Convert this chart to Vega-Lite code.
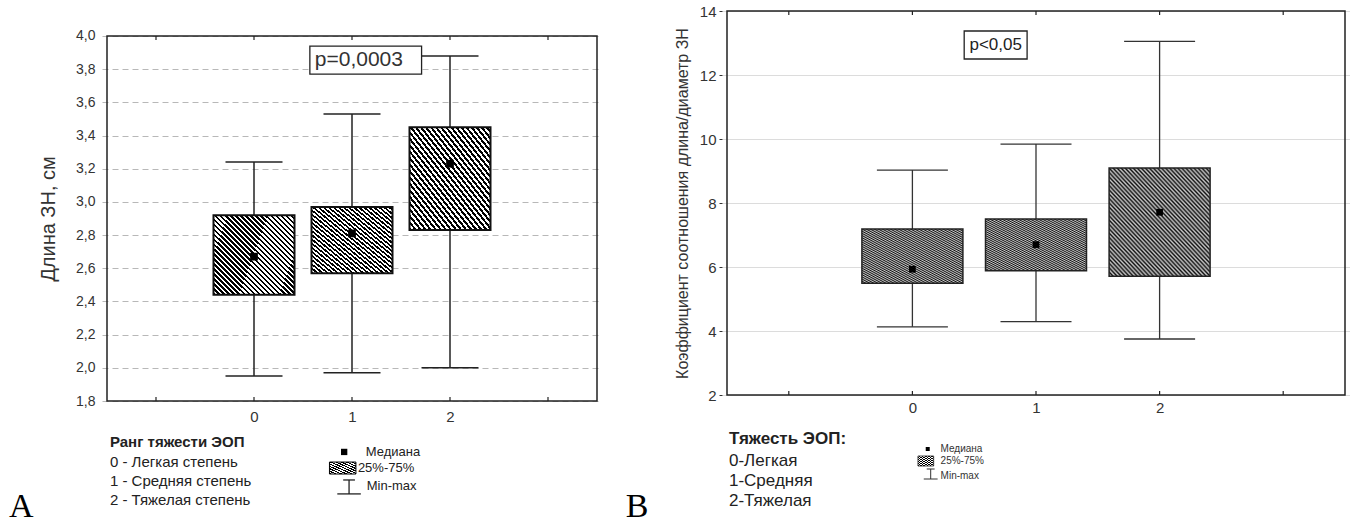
{
"$schema": "https://vega.github.io/schema/vega-lite/v6.json",
"background": "white",
"padding": {"left": 8, "top": 4, "right": 0, "bottom": 0},
"bounds": "flush",
"spacing": 120,
"config": {"view": {"stroke": null}, "font": "Liberation Sans"},
"datasets": {
 "left": [
  {"g": 0, "min": 1.95, "q1": 2.44, "med": 2.67, "q3": 2.92, "max": 3.24},
  {"g": 1, "min": 1.97, "q1": 2.57, "med": 2.81, "q3": 2.97, "max": 3.53},
  {"g": 2, "min": 2.0, "q1": 2.83, "med": 3.23, "q3": 3.45, "max": 3.88}
 ],
 "right": [
  {"g": 0, "min": 4.13, "q1": 5.49, "med": 5.93, "q3": 7.19, "max": 9.03},
  {"g": 1, "min": 4.29, "q1": 5.88, "med": 6.7, "q3": 7.5, "max": 9.84},
  {"g": 2, "min": 3.75, "q1": 5.71, "med": 7.71, "q3": 9.09, "max": 13.05}
 ],
 "one": [{}]
},
"hconcat": [
 {
  "width": 500, "height": 390,
  "layer": [
     {"data": {"name": "left"},
      "mark": {"type": "rule", "color": "#222", "strokeWidth": 1.5},
      "encoding": {
       "x": {"field": "g", "type": "quantitative", "scale": {"domain": [-1.5, 3.5], "nice": false, "zero": false},
             "axis": {"orient": "bottom", "values": [0, 1, 2], "format": "d", "title": null, "domain": false, "ticks": false, "grid": false, "labelFontSize": 15, "labelColor": "#333", "labelPadding": 8}},
       "y": {"field": "min", "type": "quantitative", "scale": {"domain": [1.8, 4.1506], "nice": false, "zero": false},
             "axis": {"orient": "left", "values": [1.8, 2, 2.2, 2.4, 2.6, 2.8, 3, 3.2, 3.4, 3.6, 3.8, 4], "tickCount": 30, "labelOverlap": false, "labelExpr": "replace(format(datum.value, '.1f'), '.', ',')", "title": "Длина ЗН, см", "titleFontSize": 20, "titleFontWeight": "normal", "titleColor": "#333", "titlePadding": 17, "titleY": 207.5, "domain": false, "ticks": false, "labelFontSize": 14, "labelColor": "#333", "labelPadding": 7, "grid": true, "gridColor": "#b8b8b8", "gridDash": [6, 4], "gridWidth": 1}},
       "y2": {"field": "max"}
      }},
     {"data": {"name": "left"},
      "mark": {"type": "tick", "orient": "horizontal", "size": 57, "thickness": 1.5, "color": "#222", "opacity": 1},
      "encoding": {"x": {"field": "g", "type": "quantitative"}, "y": {"field": "min", "type": "quantitative"}}},
     {"data": {"name": "left"},
      "mark": {"type": "tick", "orient": "horizontal", "size": 57, "thickness": 1.5, "color": "#222", "opacity": 1},
      "encoding": {"x": {"field": "g", "type": "quantitative"}, "y": {"field": "max", "type": "quantitative"}}},
     {"data": {"name": "left"},
      "mark": {"type": "bar", "size": 81, "opacity": 1, "stroke": "#111", "strokeWidth": 2,
       "fill": {"gradient": "linear", "x1": 0, "y1": 1, "x2": 1, "y2": 0, "stops": [
{"offset":0,"color":"#000"},
{"offset":0.015625,"color":"#000"},{"offset":0.015625,"color":"#fff"},
{"offset":0.03125,"color":"#fff"},{"offset":0.03125,"color":"#000"},
{"offset":0.046875,"color":"#000"},{"offset":0.046875,"color":"#fff"},
{"offset":0.0625,"color":"#fff"},{"offset":0.0625,"color":"#000"},
{"offset":0.078125,"color":"#000"},{"offset":0.078125,"color":"#fff"},
{"offset":0.09375,"color":"#fff"},{"offset":0.09375,"color":"#000"},
{"offset":0.109375,"color":"#000"},{"offset":0.109375,"color":"#fff"},
{"offset":0.125,"color":"#fff"},{"offset":0.125,"color":"#000"},
{"offset":0.140625,"color":"#000"},{"offset":0.140625,"color":"#fff"},
{"offset":0.15625,"color":"#fff"},{"offset":0.15625,"color":"#000"},
{"offset":0.171875,"color":"#000"},{"offset":0.171875,"color":"#fff"},
{"offset":0.1875,"color":"#fff"},{"offset":0.1875,"color":"#000"},
{"offset":0.203125,"color":"#000"},{"offset":0.203125,"color":"#fff"},
{"offset":0.21875,"color":"#fff"},{"offset":0.21875,"color":"#000"},
{"offset":0.234375,"color":"#000"},{"offset":0.234375,"color":"#fff"},
{"offset":0.25,"color":"#fff"},{"offset":0.25,"color":"#000"},
{"offset":0.265625,"color":"#000"},{"offset":0.265625,"color":"#fff"},
{"offset":0.28125,"color":"#fff"},{"offset":0.28125,"color":"#000"},
{"offset":0.296875,"color":"#000"},{"offset":0.296875,"color":"#fff"},
{"offset":0.3125,"color":"#fff"},{"offset":0.3125,"color":"#000"},
{"offset":0.328125,"color":"#000"},{"offset":0.328125,"color":"#fff"},
{"offset":0.34375,"color":"#fff"},{"offset":0.34375,"color":"#000"},
{"offset":0.359375,"color":"#000"},{"offset":0.359375,"color":"#fff"},
{"offset":0.375,"color":"#fff"},{"offset":0.375,"color":"#000"},
{"offset":0.390625,"color":"#000"},{"offset":0.390625,"color":"#fff"},
{"offset":0.40625,"color":"#fff"},{"offset":0.40625,"color":"#000"},
{"offset":0.421875,"color":"#000"},{"offset":0.421875,"color":"#fff"},
{"offset":0.4375,"color":"#fff"},{"offset":0.4375,"color":"#000"},
{"offset":0.453125,"color":"#000"},{"offset":0.453125,"color":"#fff"},
{"offset":0.46875,"color":"#fff"},{"offset":0.46875,"color":"#000"},
{"offset":0.484375,"color":"#000"},{"offset":0.484375,"color":"#fff"},
{"offset":0.5,"color":"#fff"},{"offset":0.5,"color":"#000"},
{"offset":0.515625,"color":"#000"},{"offset":0.515625,"color":"#fff"},
{"offset":0.53125,"color":"#fff"},{"offset":0.53125,"color":"#000"},
{"offset":0.546875,"color":"#000"},{"offset":0.546875,"color":"#fff"},
{"offset":0.5625,"color":"#fff"},{"offset":0.5625,"color":"#000"},
{"offset":0.578125,"color":"#000"},{"offset":0.578125,"color":"#fff"},
{"offset":0.59375,"color":"#fff"},{"offset":0.59375,"color":"#000"},
{"offset":0.609375,"color":"#000"},{"offset":0.609375,"color":"#fff"},
{"offset":0.625,"color":"#fff"},{"offset":0.625,"color":"#000"},
{"offset":0.640625,"color":"#000"},{"offset":0.640625,"color":"#fff"},
{"offset":0.65625,"color":"#fff"},{"offset":0.65625,"color":"#000"},
{"offset":0.671875,"color":"#000"},{"offset":0.671875,"color":"#fff"},
{"offset":0.6875,"color":"#fff"},{"offset":0.6875,"color":"#000"},
{"offset":0.703125,"color":"#000"},{"offset":0.703125,"color":"#fff"},
{"offset":0.71875,"color":"#fff"},{"offset":0.71875,"color":"#000"},
{"offset":0.734375,"color":"#000"},{"offset":0.734375,"color":"#fff"},
{"offset":0.75,"color":"#fff"},{"offset":0.75,"color":"#000"},
{"offset":0.765625,"color":"#000"},{"offset":0.765625,"color":"#fff"},
{"offset":0.78125,"color":"#fff"},{"offset":0.78125,"color":"#000"},
{"offset":0.796875,"color":"#000"},{"offset":0.796875,"color":"#fff"},
{"offset":0.8125,"color":"#fff"},{"offset":0.8125,"color":"#000"},
{"offset":0.828125,"color":"#000"},{"offset":0.828125,"color":"#fff"},
{"offset":0.84375,"color":"#fff"},{"offset":0.84375,"color":"#000"},
{"offset":0.859375,"color":"#000"},{"offset":0.859375,"color":"#fff"},
{"offset":0.875,"color":"#fff"},{"offset":0.875,"color":"#000"},
{"offset":0.890625,"color":"#000"},{"offset":0.890625,"color":"#fff"},
{"offset":0.90625,"color":"#fff"},{"offset":0.90625,"color":"#000"},
{"offset":0.921875,"color":"#000"},{"offset":0.921875,"color":"#fff"},
{"offset":0.9375,"color":"#fff"},{"offset":0.9375,"color":"#000"},
{"offset":0.953125,"color":"#000"},{"offset":0.953125,"color":"#fff"},
{"offset":0.96875,"color":"#fff"},{"offset":0.96875,"color":"#000"},
{"offset":0.984375,"color":"#000"},{"offset":0.984375,"color":"#fff"},
{"offset":1,"color":"#fff"}
       ]}},
      "encoding": {"x": {"field": "g", "type": "quantitative"}, "y": {"field": "q1", "type": "quantitative"}, "y2": {"field": "q3"}}},
     {"data": {"name": "left"},
      "mark": {"type": "point", "shape": "square", "filled": true, "size": 60, "color": "#000", "opacity": 1},
      "encoding": {"x": {"field": "g", "type": "quantitative"}, "y": {"field": "med", "type": "quantitative"}}},
     {"data": {"name": "one"},
      "mark": {"type": "rect", "filled": false, "stroke": "#222", "strokeWidth": 1.5},
      "encoding": {"x": {"datum": -1.5, "type": "quantitative"}, "x2": {"datum": 3.5}, "y": {"datum": 1.8, "type": "quantitative"}, "y2": {"datum": 4.0}}},
     {"data": {"name": "left"},
      "mark": {"type": "tick", "orient": "vertical", "size": 4, "thickness": 1.2, "color": "#222", "opacity": 1},
      "encoding": {"x": {"field": "g", "type": "quantitative"}, "y": {"datum": 3.988, "type": "quantitative"}}},
     {"data": {"name": "left"},
      "mark": {"type": "tick", "orient": "vertical", "size": 4, "thickness": 1.2, "color": "#222", "opacity": 1},
      "encoding": {"x": {"field": "g", "type": "quantitative"}, "y": {"datum": 1.812, "type": "quantitative"}}},
     {"data": {"name": "one"},
      "mark": {"type": "tick", "orient": "vertical", "size": 4, "thickness": 1.2, "color": "#222", "opacity": 1},
      "encoding": {"x": {"datum": -1, "type": "quantitative"}, "y": {"datum": 3.988, "type": "quantitative"}}},
     {"data": {"name": "one"},
      "mark": {"type": "tick", "orient": "vertical", "size": 4, "thickness": 1.2, "color": "#222", "opacity": 1},
      "encoding": {"x": {"datum": 3, "type": "quantitative"}, "y": {"datum": 3.988, "type": "quantitative"}}},
     {"data": {"name": "one"},
      "mark": {"type": "tick", "orient": "vertical", "size": 4, "thickness": 1.2, "color": "#222", "opacity": 1},
      "encoding": {"x": {"datum": -1, "type": "quantitative"}, "y": {"datum": 1.812, "type": "quantitative"}}},
     {"data": {"name": "one"},
      "mark": {"type": "tick", "orient": "vertical", "size": 4, "thickness": 1.2, "color": "#222", "opacity": 1},
      "encoding": {"x": {"datum": 3, "type": "quantitative"}, "y": {"datum": 1.812, "type": "quantitative"}}},
     {"data": {"name": "one"},
      "mark": {"type": "rect", "fill": "#fff", "stroke": "#222", "strokeWidth": 1.3},
      "encoding": {"x": {"datum": 0.57, "type": "quantitative"}, "x2": {"datum": 1.71}, "y": {"datum": 3.77, "type": "quantitative"}, "y2": {"datum": 3.939}}},
     {"data": {"name": "one"},
      "mark": {"type": "text", "text": "p=0,0003", "align": "left", "baseline": "middle", "fontSize": 21, "color": "#333"},
      "encoding": {"x": {"datum": 0.62, "type": "quantitative"}, "y": {"datum": 3.855, "type": "quantitative"}}},
     {"data": {"name": "one"},
      "mark": {"type": "text", "text": "Ранг тяжести ЭОП", "align": "left", "baseline": "middle", "fontSize": 15, "fontWeight": "bold", "color": "#222"},
      "encoding": {"x": {"datum": -1.47, "type": "quantitative"}, "y": {"datum": 1.553, "type": "quantitative"}}},
     {"data": {"name": "one"},
      "mark": {"type": "text", "text": ["0 - Легкая степень", "1 - Средняя степень", "2 - Тяжелая степень"], "lineHeight": 19, "align": "left", "baseline": "alphabetic", "fontSize": 15, "color": "#222"},
      "encoding": {"x": {"datum": -1.47, "type": "quantitative"}, "y": {"datum": 1.402, "type": "quantitative"}}},
     {"data": {"name": "one"},
      "mark": {"type": "point", "shape": "square", "filled": true, "size": 40, "color": "#000", "opacity": 1},
      "encoding": {"x": {"datum": 0.92, "type": "quantitative"}, "y": {"datum": 1.493, "type": "quantitative"}}},
     {"data": {"name": "one"},
      "mark": {"type": "text", "text": "Медиана", "align": "left", "baseline": "middle", "fontSize": 13, "color": "#222"},
      "encoding": {"x": {"datum": 1.14, "type": "quantitative"}, "y": {"datum": 1.493, "type": "quantitative"}}},
     {"data": {"name": "one"},
      "mark": {"type": "rect", "stroke": "#000", "strokeWidth": 1,
       "fill": {"gradient": "linear", "x1": 0, "y1": 1, "x2": 1, "y2": 0, "stops": [
{"offset":0,"color":"#000"},{"offset":0.05,"color":"#000"},{"offset":0.05,"color":"#fff"},{"offset":0.1,"color":"#fff"},
{"offset":0.1,"color":"#000"},{"offset":0.15,"color":"#000"},{"offset":0.15,"color":"#fff"},{"offset":0.2,"color":"#fff"},
{"offset":0.2,"color":"#000"},{"offset":0.25,"color":"#000"},{"offset":0.25,"color":"#fff"},{"offset":0.3,"color":"#fff"},
{"offset":0.3,"color":"#000"},{"offset":0.35,"color":"#000"},{"offset":0.35,"color":"#fff"},{"offset":0.4,"color":"#fff"},
{"offset":0.4,"color":"#000"},{"offset":0.45,"color":"#000"},{"offset":0.45,"color":"#fff"},{"offset":0.5,"color":"#fff"},
{"offset":0.5,"color":"#000"},{"offset":0.55,"color":"#000"},{"offset":0.55,"color":"#fff"},{"offset":0.6,"color":"#fff"},
{"offset":0.6,"color":"#000"},{"offset":0.65,"color":"#000"},{"offset":0.65,"color":"#fff"},{"offset":0.7,"color":"#fff"},
{"offset":0.7,"color":"#000"},{"offset":0.75,"color":"#000"},{"offset":0.75,"color":"#fff"},{"offset":0.8,"color":"#fff"},
{"offset":0.8,"color":"#000"},{"offset":0.85,"color":"#000"},{"offset":0.85,"color":"#fff"},{"offset":0.9,"color":"#fff"},
{"offset":0.9,"color":"#000"},{"offset":0.95,"color":"#000"},{"offset":0.95,"color":"#fff"},{"offset":1,"color":"#fff"}
       ]}},
      "encoding": {"x": {"datum": 0.77, "type": "quantitative"}, "x2": {"datum": 1.04}, "y": {"datum": 1.36, "type": "quantitative"}, "y2": {"datum": 1.432}}},
     {"data": {"name": "one"},
      "mark": {"type": "text", "text": "25%-75%", "align": "left", "baseline": "middle", "fontSize": 13, "color": "#222"},
      "encoding": {"x": {"datum": 1.06, "type": "quantitative"}, "y": {"datum": 1.396, "type": "quantitative"}}},
     {"data": {"name": "one"},
      "mark": {"type": "rule", "color": "#222", "strokeWidth": 1.3},
      "encoding": {"x": {"datum": 0.91, "type": "quantitative"}, "x2": {"datum": 1.03}, "y": {"datum": 1.324, "type": "quantitative"}}},
     {"data": {"name": "one"},
      "mark": {"type": "rule", "color": "#222", "strokeWidth": 1.3},
      "encoding": {"x": {"datum": 0.85, "type": "quantitative"}, "x2": {"datum": 1.09}, "y": {"datum": 1.24, "type": "quantitative"}}},
     {"data": {"name": "one"},
      "mark": {"type": "rule", "color": "#222", "strokeWidth": 1.3},
      "encoding": {"x": {"datum": 0.97, "type": "quantitative"}, "y": {"datum": 1.24, "type": "quantitative"}, "y2": {"datum": 1.324}}},
     {"data": {"name": "one"},
      "mark": {"type": "text", "text": "Min-max", "align": "left", "baseline": "middle", "fontSize": 13, "color": "#222"},
      "encoding": {"x": {"datum": 1.15, "type": "quantitative"}, "y": {"datum": 1.288, "type": "quantitative"}}},
     {"data": {"name": "one"},
      "mark": {"type": "text", "text": "A", "align": "left", "baseline": "alphabetic", "fontSize": 34, "font": "Liberation Serif", "color": "#000"},
      "encoding": {"x": {"datum": -2.5, "type": "quantitative"}, "y": {"datum": 1.101, "type": "quantitative"}}}
  ]
 },
 {
  "width": 628, "height": 384,
  "layer": [
     {"data": {"name": "right"},
      "mark": {"type": "rule", "color": "#333", "strokeWidth": 1.3},
      "encoding": {
       "x": {"field": "g", "type": "quantitative", "scale": {"domain": [-1.5, 3.5], "nice": false, "zero": false},
             "axis": {"orient": "bottom", "values": [0, 1, 2], "format": "d", "title": null, "domain": false, "ticks": false, "grid": false, "labelFontSize": 15, "labelColor": "#333", "labelPadding": 5}},
       "y": {"field": "min", "type": "quantitative", "scale": {"domain": [2, 14], "nice": false, "zero": false},
             "axis": {"orient": "left", "values": [2, 4, 6, 8, 10, 12, 14], "tickCount": 30, "labelOverlap": false, "format": "d", "title": "Коэффициент соотношения длина/диаметр ЗН", "titleFontSize": 16, "titleFontWeight": "normal", "titleColor": "#333", "titlePadding": 9, "domain": false, "ticks": true, "tickSize": 3, "tickColor": "#333", "labelFontSize": 15, "labelColor": "#333", "labelPadding": 3, "grid": true, "gridColor": "#dcdcdc", "gridWidth": 1}},
       "y2": {"field": "max"}
      }},
     {"data": {"name": "right"},
      "mark": {"type": "tick", "orient": "horizontal", "size": 71, "thickness": 1.3, "color": "#333", "opacity": 1},
      "encoding": {"x": {"field": "g", "type": "quantitative"}, "y": {"field": "min", "type": "quantitative"}}},
     {"data": {"name": "right"},
      "mark": {"type": "tick", "orient": "horizontal", "size": 71, "thickness": 1.3, "color": "#333", "opacity": 1},
      "encoding": {"x": {"field": "g", "type": "quantitative"}, "y": {"field": "max", "type": "quantitative"}}},
     {"data": {"name": "right"},
      "mark": {"type": "bar", "size": 101, "opacity": 1, "stroke": "#222", "strokeWidth": 1.5,
       "fill": {"gradient": "linear", "x1": 0, "y1": 1, "x2": 1, "y2": 0, "stops": [
{"offset":0,"color":"#111"},{"offset":0.01,"color":"#c8c8c8"},{"offset":0.02,"color":"#111"},{"offset":0.03,"color":"#c8c8c8"},{"offset":0.04,"color":"#111"},
{"offset":0.05,"color":"#c8c8c8"},{"offset":0.06,"color":"#111"},{"offset":0.07,"color":"#c8c8c8"},{"offset":0.08,"color":"#111"},{"offset":0.09,"color":"#c8c8c8"},
{"offset":0.1,"color":"#111"},{"offset":0.11,"color":"#c8c8c8"},{"offset":0.12,"color":"#111"},{"offset":0.13,"color":"#c8c8c8"},{"offset":0.14,"color":"#111"},
{"offset":0.15,"color":"#c8c8c8"},{"offset":0.16,"color":"#111"},{"offset":0.17,"color":"#c8c8c8"},{"offset":0.18,"color":"#111"},{"offset":0.19,"color":"#c8c8c8"},
{"offset":0.2,"color":"#111"},{"offset":0.21,"color":"#c8c8c8"},{"offset":0.22,"color":"#111"},{"offset":0.23,"color":"#c8c8c8"},{"offset":0.24,"color":"#111"},
{"offset":0.25,"color":"#c8c8c8"},{"offset":0.26,"color":"#111"},{"offset":0.27,"color":"#c8c8c8"},{"offset":0.28,"color":"#111"},{"offset":0.29,"color":"#c8c8c8"},
{"offset":0.3,"color":"#111"},{"offset":0.31,"color":"#c8c8c8"},{"offset":0.32,"color":"#111"},{"offset":0.33,"color":"#c8c8c8"},{"offset":0.34,"color":"#111"},
{"offset":0.35,"color":"#c8c8c8"},{"offset":0.36,"color":"#111"},{"offset":0.37,"color":"#c8c8c8"},{"offset":0.38,"color":"#111"},{"offset":0.39,"color":"#c8c8c8"},
{"offset":0.4,"color":"#111"},{"offset":0.41,"color":"#c8c8c8"},{"offset":0.42,"color":"#111"},{"offset":0.43,"color":"#c8c8c8"},{"offset":0.44,"color":"#111"},
{"offset":0.45,"color":"#c8c8c8"},{"offset":0.46,"color":"#111"},{"offset":0.47,"color":"#c8c8c8"},{"offset":0.48,"color":"#111"},{"offset":0.49,"color":"#c8c8c8"},
{"offset":0.5,"color":"#111"},{"offset":0.51,"color":"#c8c8c8"},{"offset":0.52,"color":"#111"},{"offset":0.53,"color":"#c8c8c8"},{"offset":0.54,"color":"#111"},
{"offset":0.55,"color":"#c8c8c8"},{"offset":0.56,"color":"#111"},{"offset":0.57,"color":"#c8c8c8"},{"offset":0.58,"color":"#111"},{"offset":0.59,"color":"#c8c8c8"},
{"offset":0.6,"color":"#111"},{"offset":0.61,"color":"#c8c8c8"},{"offset":0.62,"color":"#111"},{"offset":0.63,"color":"#c8c8c8"},{"offset":0.64,"color":"#111"},
{"offset":0.65,"color":"#c8c8c8"},{"offset":0.66,"color":"#111"},{"offset":0.67,"color":"#c8c8c8"},{"offset":0.68,"color":"#111"},{"offset":0.69,"color":"#c8c8c8"},
{"offset":0.7,"color":"#111"},{"offset":0.71,"color":"#c8c8c8"},{"offset":0.72,"color":"#111"},{"offset":0.73,"color":"#c8c8c8"},{"offset":0.74,"color":"#111"},
{"offset":0.75,"color":"#c8c8c8"},{"offset":0.76,"color":"#111"},{"offset":0.77,"color":"#c8c8c8"},{"offset":0.78,"color":"#111"},{"offset":0.79,"color":"#c8c8c8"},
{"offset":0.8,"color":"#111"},{"offset":0.81,"color":"#c8c8c8"},{"offset":0.82,"color":"#111"},{"offset":0.83,"color":"#c8c8c8"},{"offset":0.84,"color":"#111"},
{"offset":0.85,"color":"#c8c8c8"},{"offset":0.86,"color":"#111"},{"offset":0.87,"color":"#c8c8c8"},{"offset":0.88,"color":"#111"},{"offset":0.89,"color":"#c8c8c8"},
{"offset":0.9,"color":"#111"},{"offset":0.91,"color":"#c8c8c8"},{"offset":0.92,"color":"#111"},{"offset":0.93,"color":"#c8c8c8"},{"offset":0.94,"color":"#111"},
{"offset":0.95,"color":"#c8c8c8"},{"offset":0.96,"color":"#111"},{"offset":0.97,"color":"#c8c8c8"},{"offset":0.98,"color":"#111"},{"offset":0.99,"color":"#c8c8c8"},
{"offset":1,"color":"#111"}
       ]}},
      "encoding": {"x": {"field": "g", "type": "quantitative"}, "y": {"field": "q1", "type": "quantitative"}, "y2": {"field": "q3"}}},
     {"data": {"name": "right"},
      "mark": {"type": "point", "shape": "square", "filled": true, "size": 45, "color": "#000", "opacity": 1},
      "encoding": {"x": {"field": "g", "type": "quantitative"}, "y": {"field": "med", "type": "quantitative"}}},
     {"data": {"name": "one"},
      "mark": {"type": "rect", "filled": false, "stroke": "#222", "strokeWidth": 1.5},
      "encoding": {"x": {"datum": -1.5, "type": "quantitative"}, "x2": {"datum": 3.5}, "y": {"datum": 2, "type": "quantitative"}, "y2": {"datum": 14}}},
     {"data": {"name": "right"},
      "mark": {"type": "tick", "orient": "vertical", "size": 4, "thickness": 1.2, "color": "#222", "opacity": 1},
      "encoding": {"x": {"field": "g", "type": "quantitative"}, "y": {"datum": 13.9375, "type": "quantitative"}}},
     {"data": {"name": "right"},
      "mark": {"type": "tick", "orient": "vertical", "size": 4, "thickness": 1.2, "color": "#222", "opacity": 1},
      "encoding": {"x": {"field": "g", "type": "quantitative"}, "y": {"datum": 2.0625, "type": "quantitative"}}},
     {"data": {"name": "one"},
      "mark": {"type": "tick", "orient": "vertical", "size": 4, "thickness": 1.2, "color": "#222", "opacity": 1},
      "encoding": {"x": {"datum": -1, "type": "quantitative"}, "y": {"datum": 13.9375, "type": "quantitative"}}},
     {"data": {"name": "one"},
      "mark": {"type": "tick", "orient": "vertical", "size": 4, "thickness": 1.2, "color": "#222", "opacity": 1},
      "encoding": {"x": {"datum": 3, "type": "quantitative"}, "y": {"datum": 13.9375, "type": "quantitative"}}},
     {"data": {"name": "one"},
      "mark": {"type": "tick", "orient": "vertical", "size": 4, "thickness": 1.2, "color": "#222", "opacity": 1},
      "encoding": {"x": {"datum": -1, "type": "quantitative"}, "y": {"datum": 2.0625, "type": "quantitative"}}},
     {"data": {"name": "one"},
      "mark": {"type": "tick", "orient": "vertical", "size": 4, "thickness": 1.2, "color": "#222", "opacity": 1},
      "encoding": {"x": {"datum": 3, "type": "quantitative"}, "y": {"datum": 2.0625, "type": "quantitative"}}},
     {"data": {"name": "one"},
      "mark": {"type": "rect", "fill": "#fff", "stroke": "#222", "strokeWidth": 1.3},
      "encoding": {"x": {"datum": 0.419, "type": "quantitative"}, "x2": {"datum": 0.928}, "y": {"datum": 12.5, "type": "quantitative"}, "y2": {"datum": 13.375}}},
     {"data": {"name": "one"},
      "mark": {"type": "text", "text": "p<0,05", "align": "center", "baseline": "middle", "fontSize": 17, "color": "#222"},
      "encoding": {"x": {"datum": 0.674, "type": "quantitative"}, "y": {"datum": 12.94, "type": "quantitative"}}},
     {"data": {"name": "one"},
      "mark": {"type": "text", "text": "Тяжесть ЭОП:", "align": "left", "baseline": "middle", "fontSize": 17, "fontWeight": "bold", "color": "#222"},
      "encoding": {"x": {"datum": -1.484, "type": "quantitative"}, "y": {"datum": 0.625, "type": "quantitative"}}},
     {"data": {"name": "one"},
      "mark": {"type": "text", "text": ["0-Легкая", "1-Средняя", "2-Тяжелая"], "lineHeight": 20, "align": "left", "baseline": "alphabetic", "fontSize": 17, "color": "#222"},
      "encoding": {"x": {"datum": -1.484, "type": "quantitative"}, "y": {"datum": -0.234, "type": "quantitative"}}},
     {"data": {"name": "one"},
      "mark": {"type": "point", "shape": "square", "filled": true, "size": 16, "color": "#000", "opacity": 1},
      "encoding": {"x": {"datum": 0.124, "type": "quantitative"}, "y": {"datum": 0.3125, "type": "quantitative"}}},
     {"data": {"name": "one"},
      "mark": {"type": "text", "text": "Медиана", "align": "left", "baseline": "middle", "fontSize": 10, "color": "#333"},
      "encoding": {"x": {"datum": 0.228, "type": "quantitative"}, "y": {"datum": 0.3125, "type": "quantitative"}}},
     {"data": {"name": "one"},
      "mark": {"type": "rect", "stroke": "#222", "strokeWidth": 0.8,
       "fill": {"gradient": "linear", "x1": 0, "y1": 1, "x2": 1, "y2": 0, "stops": [
{"offset":0,"color":"#000"},{"offset":0.05,"color":"#000"},{"offset":0.05,"color":"#fff"},{"offset":0.1,"color":"#fff"},
{"offset":0.1,"color":"#000"},{"offset":0.15,"color":"#000"},{"offset":0.15,"color":"#fff"},{"offset":0.2,"color":"#fff"},
{"offset":0.2,"color":"#000"},{"offset":0.25,"color":"#000"},{"offset":0.25,"color":"#fff"},{"offset":0.3,"color":"#fff"},
{"offset":0.3,"color":"#000"},{"offset":0.35,"color":"#000"},{"offset":0.35,"color":"#fff"},{"offset":0.4,"color":"#fff"},
{"offset":0.4,"color":"#000"},{"offset":0.45,"color":"#000"},{"offset":0.45,"color":"#fff"},{"offset":0.5,"color":"#fff"},
{"offset":0.5,"color":"#000"},{"offset":0.55,"color":"#000"},{"offset":0.55,"color":"#fff"},{"offset":0.6,"color":"#fff"},
{"offset":0.6,"color":"#000"},{"offset":0.65,"color":"#000"},{"offset":0.65,"color":"#fff"},{"offset":0.7,"color":"#fff"},
{"offset":0.7,"color":"#000"},{"offset":0.75,"color":"#000"},{"offset":0.75,"color":"#fff"},{"offset":0.8,"color":"#fff"},
{"offset":0.8,"color":"#000"},{"offset":0.85,"color":"#000"},{"offset":0.85,"color":"#fff"},{"offset":0.9,"color":"#fff"},
{"offset":0.9,"color":"#000"},{"offset":0.95,"color":"#000"},{"offset":0.95,"color":"#fff"},{"offset":1,"color":"#fff"}
       ]}},
      "encoding": {"x": {"datum": 0.045, "type": "quantitative"}, "x2": {"datum": 0.172}, "y": {"datum": -0.219, "type": "quantitative"}, "y2": {"datum": 0.094}}},
     {"data": {"name": "one"},
      "mark": {"type": "text", "text": "25%-75%", "align": "left", "baseline": "middle", "fontSize": 10, "color": "#333"},
      "encoding": {"x": {"datum": 0.228, "type": "quantitative"}, "y": {"datum": -0.0625, "type": "quantitative"}}},
     {"data": {"name": "one"},
      "mark": {"type": "rule", "color": "#333", "strokeWidth": 1},
      "encoding": {"x": {"datum": 0.116, "type": "quantitative"}, "x2": {"datum": 0.18}, "y": {"datum": -0.3125, "type": "quantitative"}}},
     {"data": {"name": "one"},
      "mark": {"type": "rule", "color": "#333", "strokeWidth": 1},
      "encoding": {"x": {"datum": 0.092, "type": "quantitative"}, "x2": {"datum": 0.204}, "y": {"datum": -0.625, "type": "quantitative"}}},
     {"data": {"name": "one"},
      "mark": {"type": "rule", "color": "#333", "strokeWidth": 1},
      "encoding": {"x": {"datum": 0.148, "type": "quantitative"}, "y": {"datum": -0.625, "type": "quantitative"}, "y2": {"datum": -0.3125}}},
     {"data": {"name": "one"},
      "mark": {"type": "text", "text": "Min-max", "align": "left", "baseline": "middle", "fontSize": 10, "color": "#333"},
      "encoding": {"x": {"datum": 0.228, "type": "quantitative"}, "y": {"datum": -0.531, "type": "quantitative"}}},
     {"data": {"name": "one"},
      "mark": {"type": "text", "text": "B", "align": "left", "baseline": "alphabetic", "fontSize": 34, "font": "Liberation Serif", "color": "#000"},
      "encoding": {"x": {"datum": -2.32, "type": "quantitative"}, "y": {"datum": -1.8125, "type": "quantitative"}}}
  ]
 }
]
}
